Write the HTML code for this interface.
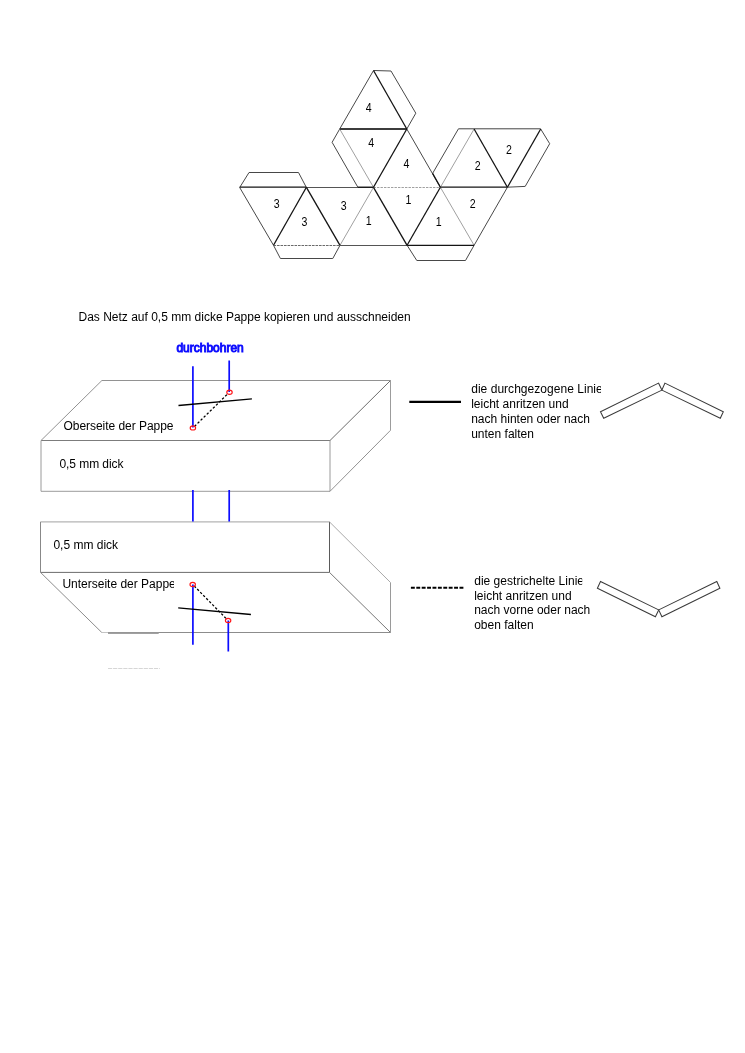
<!DOCTYPE html>
<html><head><meta charset="utf-8">
<style>
html,body{margin:0;padding:0;background:#fff;}
body{width:745px;height:1053px;overflow:hidden;position:relative;font-family:"Liberation Sans",sans-serif;}
svg{position:absolute;left:0;top:0;will-change:transform;}
text{font-family:"Liberation Sans",sans-serif;font-size:12px;fill:#000;}
.n{font-size:12px;}
.t{stroke:#484848;stroke-width:1;fill:none;}
.k{stroke:#141414;stroke-width:1.3;fill:none;}
.h{stroke:#555;stroke-width:1;fill:none;}
.g{stroke:#a0a0a0;stroke-width:1;fill:none;}
.d{stroke:#a0a0a0;stroke-width:1;fill:none;stroke-dasharray:2.4 1.1;}
.b{stroke:#989898;stroke-width:1;fill:none;}
.bl{stroke:#0c0cff;stroke-width:1.7;fill:none;}
.r{stroke:#ff1418;stroke-width:1.15;fill:none;}
.f{stroke:#3a3a3a;stroke-width:1.05;fill:none;}
</style></head><body>
<svg width="745" height="1053" viewBox="0 0 745 1053">
<!-- NET -->
<g id="net">
<!-- tabs thin -->
<path class="t" d="M239.7 187.5 L249 172.5 L298.5 172.5 L306.4 187.5"/>
<path class="t" d="M273.5 245.3 L280.4 258.5 L332.8 258.5 L340 245.3"/>
<path class="t" d="M239.7 187.5 L273.5 245.3"/>
<path class="h" d="M306.4 187.5 L373.5 187.5"/>
<path class="h" d="M340 245.5 L407.1 245.5"/>
<path class="t" d="M373.5 70.5 L391 71 L415.8 113.2 L406.8 129"/>
<path class="t" d="M373.5 70.5 L339.7 129"/>
<path class="t" d="M339.7 129 L332.1 142.3 L357.9 187.3"/>
<path class="t" d="M406.8 129 L440.4 187.3"/>
<path class="t" d="M432.6 173.4 L458.4 128.9"/>
<path class="h" d="M458.4 128.8 L540.7 128.8" style="stroke:#444"/>
<path class="t" d="M540.7 129 L549.7 143.7 L525.2 186.4 L507.4 187.2"/>
<path class="t" d="M507.4 187.3 L474.1 245.3"/>
<path class="t" d="M407.1 245.3 L416.8 260.5 L465.5 260.5 L474.1 245.3"/>
<!-- light gray -->
<path class="g" d="M339.7 129 L373.5 187.3"/>
<path class="g" d="M373.5 187.3 L340 245.3"/>
<path class="g" d="M440.4 187.3 L474.1 129"/>
<path class="g" d="M440.4 187.3 L474.1 245.3"/>
<!-- dashed -->
<path class="d" d="M273.5 245.5 L340 245.5" style="stroke:#6a6a6a;stroke-dasharray:2.6 0.9"/>
<path class="d" d="M373.5 187.5 L440.4 187.5"/>
<!-- thick -->
<path class="k" d="M239.7 187.2 L306.4 187.2"/>
<path class="k" d="M306.4 187.3 L273.5 245.3"/>
<path class="k" d="M306.4 187.3 L340 245.3"/>
<path class="k" d="M339.7 129 L406.8 129" style="stroke-width:2;stroke:#3c3c3c"/>
<path class="k" d="M373.5 70.5 L406.8 129"/>
<path class="k" d="M406.8 129 L373.5 187.3"/>
<path class="k" d="M373.5 187.3 L407.1 245.3"/>
<path class="k" d="M440.4 187.3 L407.1 245.3"/>
<path class="k" d="M407.1 245.4 L474.1 245.4"/>
<path class="k" d="M440.4 187.2 L507.4 187.2"/>
<path class="k" d="M474.1 129 L507.4 187.3"/>
<path class="k" d="M507.4 187.3 L540.7 129"/>
<path class="k" d="M357.9 187.2 L373.5 187.2"/>
<path class="k" d="M432.6 173.4 L440.4 187.3"/>
<g class="n" text-anchor="middle">
<text x="368.6" y="112" textLength="5.9" lengthAdjust="spacingAndGlyphs">4</text>
<text x="371.2" y="147" textLength="5.9" lengthAdjust="spacingAndGlyphs">4</text>
<text x="406.5" y="168" textLength="5.9" lengthAdjust="spacingAndGlyphs">4</text>
<text x="276.7" y="208" textLength="5.9" lengthAdjust="spacingAndGlyphs">3</text>
<text x="304.4" y="225.5" textLength="5.9" lengthAdjust="spacingAndGlyphs">3</text>
<text x="343.6" y="209.5" textLength="5.9" lengthAdjust="spacingAndGlyphs">3</text>
<text x="368.6" y="225" textLength="5.9" lengthAdjust="spacingAndGlyphs">1</text>
<text x="408.5" y="204" textLength="5.9" lengthAdjust="spacingAndGlyphs">1</text>
<text x="438.7" y="226" textLength="5.9" lengthAdjust="spacingAndGlyphs">1</text>
<text x="508.9" y="154" textLength="5.9" lengthAdjust="spacingAndGlyphs">2</text>
<text x="477.7" y="169.5" textLength="5.9" lengthAdjust="spacingAndGlyphs">2</text>
<text x="472.6" y="208" textLength="5.9" lengthAdjust="spacingAndGlyphs">2</text>
</g>
</g>
<!-- caption -->
<text x="78.5" y="321">Das Netz auf 0,5 mm dicke Pappe kopieren und ausschneiden</text>
<!-- upper box -->
<g id="ubox" fill="none" stroke-width="1">
<path stroke="#7c7c7c" d="M41 440.5 L330 440.5"/>
<path stroke="#9c9c9c" d="M41 491.3 L330 491.3"/>
<path stroke="#9a9a9a" d="M41 440.5 L41 491.3"/>
<path stroke="#9a9a9a" d="M330 440.5 L330 491.3"/>
<path stroke="#929292" d="M41 440.5 L101.9 380.5 L390.5 380.5"/>
<path stroke="#6c6c6c" d="M390.5 380.5 L330 440.5"/>
<path stroke="#9c9c9c" d="M390.5 380.5 L390.5 430.3"/>
<path stroke="#868686" stroke-width="0.9" d="M390.5 430.3 L330 491.3"/>
</g>
<!-- lower box -->
<g id="lbox" fill="none" stroke-width="1">
<path stroke="#b4b4b4" stroke-width="1.2" d="M40.5 521.9 L329.5 521.9"/>
<path stroke="#6c6c6c" d="M40.5 572.4 L329.5 572.4"/>
<path stroke="#888" d="M40.5 521.9 L40.5 572.4"/>
<path stroke="#5a5a5a" d="M329.5 521.9 L329.5 572.4"/>
<path stroke="#8c8c8c" d="M40.5 572.4 L101.8 632.5"/>
<path stroke="#c4c4c4" d="M101.5 632.5 L108 632.5"/>
<path stroke="#8c8c8c" d="M108 632.5 L390.5 632.5"/>
<path stroke="#777" d="M329.5 572.4 L390.5 632.5"/>
<path stroke="#a8a8a8" d="M329.5 521.9 L390.5 582.5"/>
<path stroke="#9a9a9a" d="M390.5 582.5 L390.5 632.5"/>
<path d="M108 633.3 L158.7 633.3" stroke="#a0a0a0" stroke-width="1.6"/>
<path d="M108 668.5 L159.8 668.5" stroke="#d6d6d6" stroke-width="1" stroke-dasharray="4.2 0.9"/>
</g>
<!-- blue lines -->
<path class="bl" d="M192.9 366.2 L192.9 427.5"/>
<path class="bl" d="M229.2 360.5 L229.2 392"/>
<path class="bl" d="M192.9 490 L192.9 521.5"/>
<path class="bl" d="M229.2 490 L229.2 521.5"/>
<path class="bl" d="M192.9 584.5 L192.9 644.7"/>
<path class="bl" d="M228.3 620.5 L228.3 651.5"/>
<!-- black lines -->
<path d="M178.5 405.5 L251.9 398.8" stroke="#000" stroke-width="1.35"/>
<path d="M194.5 426.4 L227.8 393.8" stroke="#000" stroke-width="1.3" stroke-dasharray="2.4 1.9"/>
<path d="M178.2 607.8 L250.9 614.5" stroke="#000" stroke-width="1.35"/>
<path d="M194.2 586 L226.6 619" stroke="#000" stroke-width="1.3" stroke-dasharray="2.4 1.9"/>
<ellipse class="r" cx="192.9" cy="427.9" rx="2.7" ry="2.1"/>
<ellipse class="r" cx="229.5" cy="392.3" rx="2.7" ry="2.1"/>
<ellipse class="r" cx="192.7" cy="584.5" rx="2.7" ry="2.1"/>
<ellipse class="r" cx="228.1" cy="620.5" rx="2.7" ry="2.1"/>
<text x="176.4" y="352" style="fill:#0c0cff;stroke:#0c0cff;stroke-width:0.95">durchbohren</text>
<text x="63.5" y="430" style="letter-spacing:-0.04px">Oberseite der Pappe</text>
<text x="59.5" y="468.2" style="letter-spacing:-0.07px">0,5 mm dick</text>
<text x="53.4" y="548.9">0,5 mm dick</text>
<text x="62.4" y="587.6" clip-path="url(#c3)">Unterseite der Pappe</text>
<!-- legend -->
<path d="M409.3 401.9 L461 401.9" stroke="#000" stroke-width="2.1"/>
<path d="M410.9 587.8 L463.4 587.8" stroke="#000" stroke-width="2.1" stroke-dasharray="3.9 1.5"/>
<clipPath id="c1"><rect x="460" y="375" width="141.1" height="80"/></clipPath>
<text x="471.2" y="392.5" clip-path="url(#c1)" style="letter-spacing:0.035px">die durchgezogene Linie</text>
<text x="471.2" y="407.6">leicht anritzen und</text>
<text x="471.2" y="422.7">nach hinten oder nach</text>
<text x="471.2" y="437.8">unten falten</text>
<clipPath id="c2"><rect x="460" y="565" width="122.2" height="80"/></clipPath>
<text x="474.2" y="584.5" clip-path="url(#c2)" style="letter-spacing:0.02px">die gestrichelte Linie</text>
<text x="474.2" y="599.5">leicht anritzen und</text>
<text x="474.2" y="614.4">nach vorne oder nach</text>
<text x="474.2" y="629.3">oben falten</text>
<clipPath id="c3"><rect x="40" y="570" width="134" height="25"/></clipPath>
<!-- fold shapes -->
<path class="f" d="M658.5 383.1 L661.9 390.1 L603.7 418.3 L600.5 411.7 Z"/>
<path class="f" d="M664.9 383.1 L661.9 390.1 L720.3 418.3 L723.3 411.7 Z"/>
<path class="f" d="M600.5 581.5 L597.4 588.2 L655.4 616.8 L658.7 609.9 Z"/>
<path class="f" d="M658.7 609.9 L661.9 616.8 L719.9 588.2 L716.8 581.5 Z"/>
</svg>
</body></html>
